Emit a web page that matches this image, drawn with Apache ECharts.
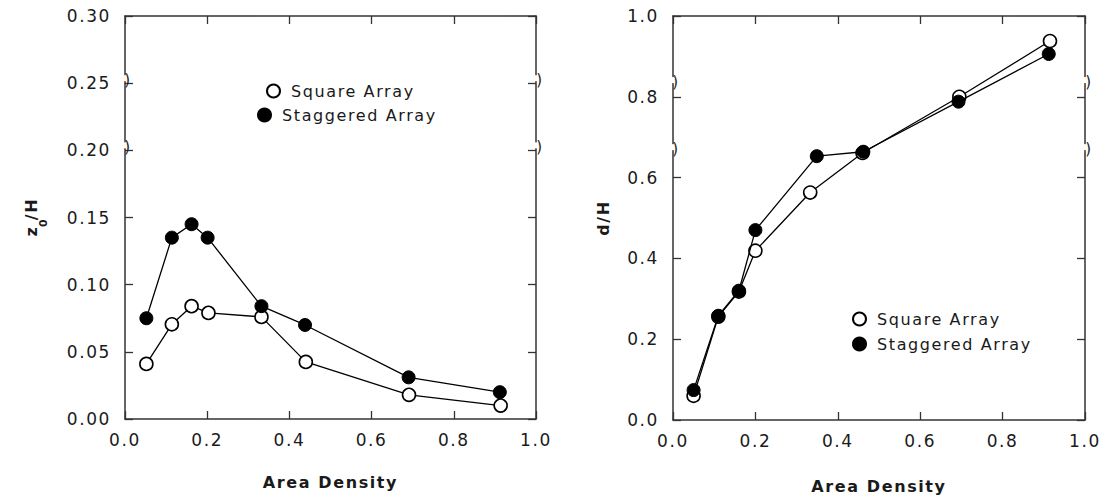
<!DOCTYPE html>
<html>
<head>
<meta charset="utf-8">
<title>Roughness length and displacement height vs. area density</title>
<script src="https://cdn.jsdelivr.net/npm/echarts@6/dist/echarts.min.js"></script>
<style>
  html, body { margin: 0; padding: 0; background: #fff; }
  #chart { width: 1105px; height: 501px; }
  /* plotter-style lettering: widely spaced glyphs */
  #chart text { letter-spacing: 1.6px; }
</style>
</head>
<body>
<div id="chart"></div>
<script>
// ---- z0/H panel -------------------------------------------------------
const z0SquareX = [0.052, 0.114, 0.162, 0.203, 0.332, 0.440, 0.691, 0.914];
const z0SquareY = [0.041, 0.0705, 0.084, 0.079, 0.076, 0.0425, 0.018, 0.010];
const z0StaggeredX = [0.052, 0.114, 0.162, 0.201, 0.332, 0.438, 0.690, 0.912];
const z0StaggeredY = [0.075, 0.135, 0.145, 0.135, 0.084, 0.070, 0.031, 0.020];

// ---- d/H panel --------------------------------------------------------
const dSquareX = [0.050, 0.110, 0.160, 0.200, 0.333, 0.460, 0.695, 0.915];
const dSquareY = [0.060, 0.256, 0.318, 0.419, 0.563, 0.661, 0.800, 0.938];
const dStaggeredX = [0.050, 0.110, 0.160, 0.200, 0.349, 0.462, 0.693, 0.912];
const dStaggeredY = [0.074, 0.258, 0.320, 0.470, 0.653, 0.664, 0.788, 0.906];

// axis ranges and break positions on the value axes
const xRange = [0, 1, 0.2];
const z0Range = [0, 0.30, 0.05];
const dRange = [0, 1.0, 0.2];
const z0Breaks = [0.25, 0.20];
const dBreaks = [0.829, 0.663];

const seriesNames = ['Square Array', 'Staggered Array'];
const xTitle = 'Area Density';

const INK = '#1a1a1a';
const FONT = '"DejaVu Sans", "Noto Sans", sans-serif';

function pairs(xs, ys) { return xs.map((x, i) => [x, ys[i]]); }

const frameLine = { show: true, onZero: false, lineStyle: { color: '#333', width: 1.5 } };
const innerTick = { show: true, inside: true, length: 8, lineStyle: { color: '#333', width: 1.3 } };

function bottomAxis(gridIndex, nameGap) {
  return {
    type: 'value', gridIndex, position: 'bottom',
    min: xRange[0], max: xRange[1], interval: xRange[2],
    name: xTitle, nameLocation: 'middle', nameGap,
    nameTextStyle: { fontFamily: FONT, fontSize: 16, fontWeight: 'bold', color: INK },
    axisLine: frameLine, axisTick: innerTick,
    axisLabel: { fontFamily: FONT, fontSize: 17, color: INK, margin: 12,
                 formatter: v => v.toFixed(1) },
    splitLine: { show: false }
  };
}
function topAxis(gridIndex) {
  return {
    type: 'value', gridIndex, position: 'top',
    min: xRange[0], max: xRange[1], interval: xRange[2],
    axisLine: frameLine, axisTick: innerTick,
    axisLabel: { show: false }, splitLine: { show: false }
  };
}
function leftAxis(gridIndex, range, decimals, name, nameGap) {
  return {
    type: 'value', gridIndex, position: 'left',
    min: range[0], max: range[1], interval: range[2],
    name, nameLocation: 'middle', nameGap, nameRotate: 90,
    nameTextStyle: {
      fontFamily: FONT, fontSize: 16, fontWeight: 'bold', color: INK,
      rich: {
        b: { fontFamily: FONT, fontSize: 16, fontWeight: 'bold', color: INK, lineHeight: 20 },
        s: { fontFamily: FONT, fontSize: 11, fontWeight: 'bold', color: INK, lineHeight: 20,
             verticalAlign: 'bottom', padding: [0, 0, -8, 0] }
      }
    },
    axisLine: frameLine, axisTick: innerTick,
    axisLabel: { fontFamily: FONT, fontSize: 17, color: INK, margin: 14,
                 formatter: v => v.toFixed(decimals) },
    splitLine: { show: false }
  };
}
function rightAxis(gridIndex, range) {
  return {
    type: 'value', gridIndex, position: 'right',
    min: range[0], max: range[1], interval: range[2],
    axisLine: frameLine, axisTick: innerTick,
    axisLabel: { show: false }, splitLine: { show: false }
  };
}

function lineSeries(name, xAxisIndex, yAxisIndex, data, filled) {
  return {
    name, type: 'line', xAxisIndex, yAxisIndex, data,
    symbol: 'circle', symbolSize: 13, showSymbol: true,
    lineStyle: { color: '#000', width: 1.3 },
    itemStyle: filled
      ? { color: '#000', borderColor: '#000', borderWidth: 1 }
      : { color: '#fff', borderColor: '#000', borderWidth: 1.6 },
    emphasis: { disabled: true },
    animation: false, z: filled ? 3 : 2
  };
}

function legendItem(name, left, top) {
  return {
    show: true, left, top, orient: 'vertical',
    data: [{ name, icon: 'circle' }],
    itemWidth: 13, itemHeight: 13, itemGap: 0,
    selectedMode: false,
    textStyle: { fontFamily: FONT, fontSize: 16, color: INK, padding: [0, 0, 0, 6] }
  };
}

const chart = echarts.init(document.getElementById('chart'), null, { renderer: 'svg' });

chart.setOption({
  backgroundColor: '#fff',
  animation: false,
  grid: [
    { left: 125, top: 16, width: 411, height: 403, containLabel: false },
    { left: 673, top: 16, width: 412, height: 404, containLabel: false }
  ],
  xAxis: [bottomAxis(0, 55), topAxis(0), bottomAxis(1, 58), topAxis(1)],
  yAxis: [
    leftAxis(0, z0Range, 2, '{b|z}{s|0}{b|/H}', 84),
    rightAxis(0, z0Range),
    leftAxis(1, dRange, 1, 'd/H', 62),
    rightAxis(1, dRange)
  ],
  legend: [
    legendItem(seriesNames[0], 261, 78),
    legendItem(seriesNames[1], 252, 102),
    legendItem(seriesNames[0], 847, 306),
    legendItem(seriesNames[1], 847, 331)
  ],
  series: [
    lineSeries(seriesNames[0], 0, 0, pairs(z0SquareX, z0SquareY), false),
    lineSeries(seriesNames[1], 0, 0, pairs(z0StaggeredX, z0StaggeredY), true),
    lineSeries(seriesNames[0], 2, 2, pairs(dSquareX, dSquareY), false),
    lineSeries(seriesNames[1], 2, 2, pairs(dStaggeredX, dStaggeredY), true)
  ]
});

// axis-break marks: a small gap in the frame with a bracket beside it
function breakMarks(xAxisIndex, yAxisIndex, values) {
  const els = [];
  values.forEach(v => {
    const l = chart.convertToPixel({ xAxisIndex, yAxisIndex }, [xRange[0], v]);
    const r = chart.convertToPixel({ xAxisIndex, yAxisIndex }, [xRange[1], v]);
    [[l, 3], [r, 4]].forEach(([p, dx]) => {
      els.push({ type: 'rect', shape: { x: p[0] - 1.5, y: p[1] - 8, width: 3, height: 6 },
                 style: { fill: '#fff' }, z: 50, silent: true });
      els.push({ type: 'text', x: p[0] + dx, y: p[1] - 3,
                 style: { text: ')', fontFamily: FONT, fontSize: 15, fill: '#222',
                          align: 'center', verticalAlign: 'middle' }, z: 51, silent: true });
    });
  });
  return els;
}

chart.setOption({
  graphic: breakMarks(0, 0, z0Breaks).concat(breakMarks(2, 2, dBreaks))
});
</script>
</body>
</html>
